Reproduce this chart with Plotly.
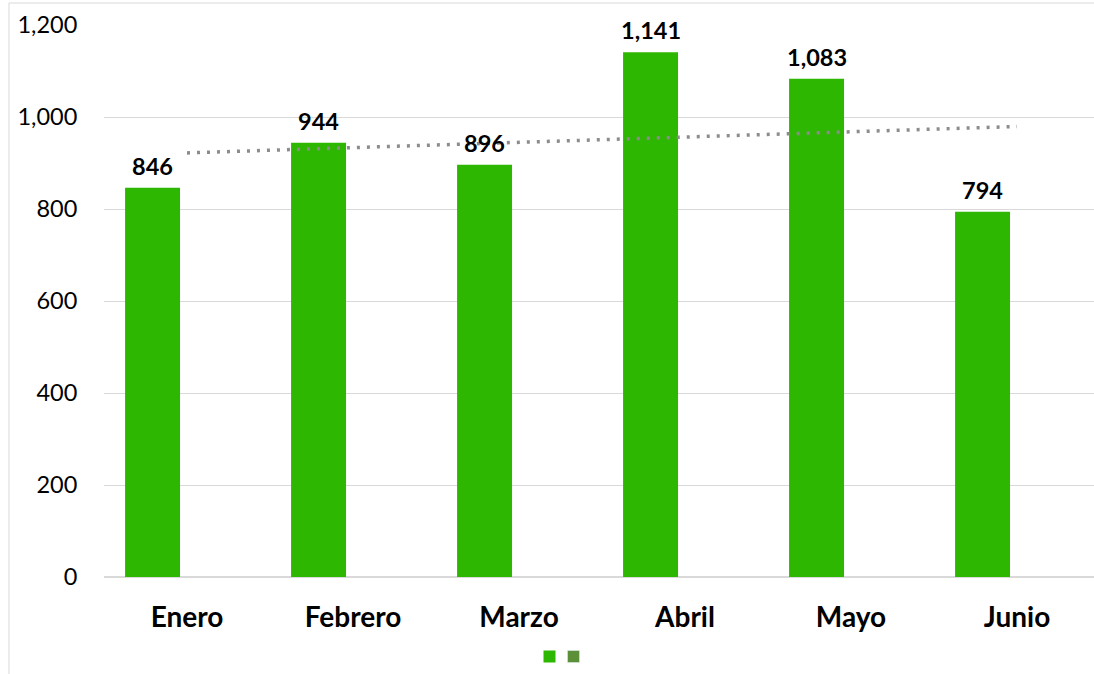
import numpy as np
import plotly.graph_objects as go

months = ["Enero", "Febrero", "Marzo", "Abril", "Mayo", "Junio"]
values = [846, 944, 896, 1141, 1083, 794]
y_ticks = [0, 200, 400, 600, 800, 1000, 1200]
y_tick_labels = ["0", "200", "400", "600", "800", "1,000", "1,200"]

BAR_COLOR = "#2EB700"
BAR2_COLOR = "#5B9039"
FONT = "Lato"

bar_offset = -0.373
bar_width = 0.331

L, T, B = 104, 25, 97
W, H = 1094, 674
pw = W - L
ph = H - T - B

fig = go.Figure()
fig.add_trace(go.Bar(
    x=months, y=values, name="", marker=dict(color=BAR_COLOR, line=dict(width=0)),
    offset=bar_offset, width=bar_width, showlegend=True, legend="legend",
))
fig.add_trace(go.Bar(
    x=months, y=[None] * len(months), name="", marker=dict(color=BAR2_COLOR),
    offset=bar_offset + bar_width, width=bar_width, showlegend=True, legend="legend2",
))

# linear trendline fitted from the data
idx = np.arange(1, len(values) + 1)
slope, intercept = np.polyfit(idx, values, 1)
trend = slope * idx + intercept
fig.add_trace(go.Scatter(
    x=months, y=trend, mode="lines", showlegend=False,
    line=dict(color="#8C8C8C", width=3.5, dash="3px,7px"), hoverinfo="skip",
))

# data labels
for i, (m, v) in enumerate(zip(months, values)):
    fig.add_annotation(
        x=i + bar_offset + bar_width / 2, y=v, text=f"<b>{v:,}</b>",
        showarrow=False, yanchor="bottom", yshift=6,
        font=dict(family=FONT, size=23.5, color="#000000"),
    )

fig.add_shape(
    type="rect", xref="paper", yref="paper",
    x0=(9 - L) / pw, x1=1.2, y0=-0.5, y1=(H - B - 3) / ph,
    line=dict(color="#D9D9D9", width=1), fillcolor="rgba(0,0,0,0)", layer="below",
)

leg_y = -(656.5 - (H - B)) / ph
common_leg = dict(orientation="h", xanchor="left", y=leg_y, yanchor="middle",
                  font=dict(size=12), itemwidth=30, bgcolor="rgba(0,0,0,0)")

fig.update_layout(
    width=W, height=H,
    margin=dict(l=L, r=0, t=T, b=B, pad=0),
    plot_bgcolor="white", paper_bgcolor="white",
    font=dict(family=FONT, color="#000000"),
    barmode="overlay",
    xaxis=dict(
        range=[-0.5, -0.5 + pw / 166.0], showgrid=False, showline=False, zeroline=False,
        ticks="outside", ticklen=15, tickcolor="rgba(0,0,0,0)",
        tickfont=dict(family=FONT, size=28, color="#000000"),
        tickvals=months, ticktext=[f"<b>{m}</b>" for m in months],
    ),
    yaxis=dict(
        range=[0, 1200], tickvals=y_ticks, ticktext=y_tick_labels,
        showgrid=True, gridcolor="#D9D9D9", gridwidth=1,
        zeroline=True, zerolinecolor="#D9D9D9", zerolinewidth=1.5,
        showline=False, ticks="outside", ticklen=21, tickcolor="rgba(0,0,0,0)",
        tickfont=dict(family=FONT, size=23.5, color="#000000"),
    ),
    legend=dict(x=(554.5 - 25 - L) / pw, **common_leg),
    legend2=dict(x=(578.5 - 25 - L) / pw, **common_leg),
)

fig.write_html("out.html", post_script="document.body.style.margin='0px';",
               config={"displayModeBar": False})
